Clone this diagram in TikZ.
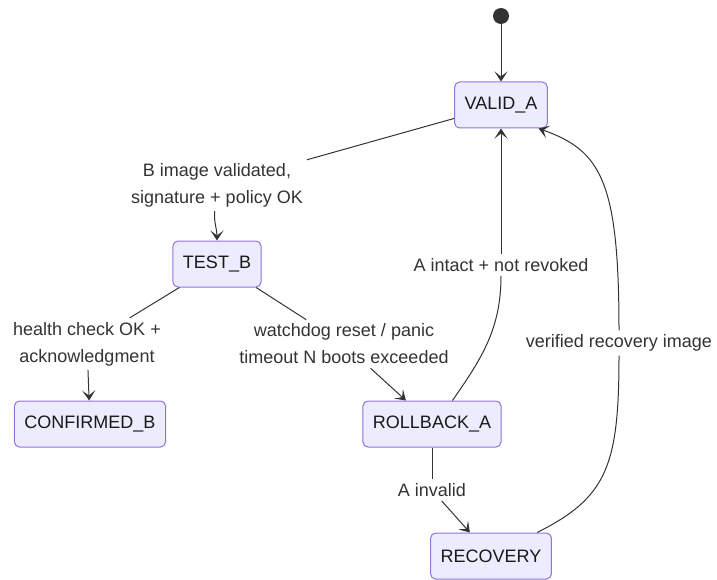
\documentclass[tikz,border=0pt]{standalone}
\usepackage{fontspec}
\setmainfont{Liberation Sans}
\usepackage{tikz}
\usetikzlibrary{arrows.meta}
\definecolor{stfill}{HTML}{ECECFF}
\definecolor{stline}{HTML}{9370DB}
\definecolor{edge}{HTML}{333333}
\tikzstyle{state} = [draw=stline,fill=stfill,rounded corners=5pt,line width=1pt,inner xsep=10pt,minimum height=46pt,text=black!90]
\tikzstyle{lbl} = [fill=white,align=center,inner sep=4pt,text=edge]
\tikzstyle{arrow} = [-{Stealth[length=10pt,width=13pt,inset=5pt]},edge,line width=1pt]
\tikzstyle{line} = [edge,line width=1pt]

\begin{document}
\begin{tikzpicture}[x=1pt,y=1pt,font=\fontsize{18pt}{27pt}\selectfont]
      \useasboundingbox (0,0) rectangle (717,-580);
      % states
      \node[circle,fill=edge,minimum size=16pt,inner sep=0pt](init) at (501,-16){};
      \node[state](valid) at (501,-105){VALID\_A};
      \node[state](test) at (217,-264){TEST\_B};
      \node[state](confirmed) at (90,-424){CONFIRMED\_B};
      \node[state](rollback) at (432,-424){ROLLBACK\_A};
      \node[state](recovery) at (491,-556){RECOVERY};
      % transition labels
      \node[lbl](l1) at (217,-185){B image validated,\\signature + policy OK};
      \node[lbl](l2) at (87,-344){health check OK +\\acknowledgment};
      \node[lbl](l3) at (344,-344){watchdog reset / panic\\timeout N boots exceeded};
      \node[lbl](l4) at (501,-265){A intact + not revoked};
      \node[lbl](l5) at (619,-343){verified recovery image};
      \node[lbl](l6) at (432,-490){A invalid};
      % transitions
      \draw[arrow](init)--(valid);
      \draw[line](valid.196)--(l1);
      \draw[arrow](l1)to[out=-95,in=90](test);
      \draw[line](test.212)--(l2);
      \draw[arrow](l2)--(confirmed);
      \draw[line](test.-31)--(l3);
      \draw[arrow](l3)--(rollback.138);
      \draw[line](rollback.49)to[out=55,in=-90](l4);
      \draw[arrow](l4)--(valid);
      \draw[line](recovery.27)..controls +(70,35) and +(0,-110)..(l5.south);
      \draw[arrow](l5.north)..controls +(0,150) and +(62,-22)..(valid.-32);
      \draw[line](rollback)--(l6);
      \draw[arrow](l6)--(recovery.132);
    \end{tikzpicture}
\end{document}
